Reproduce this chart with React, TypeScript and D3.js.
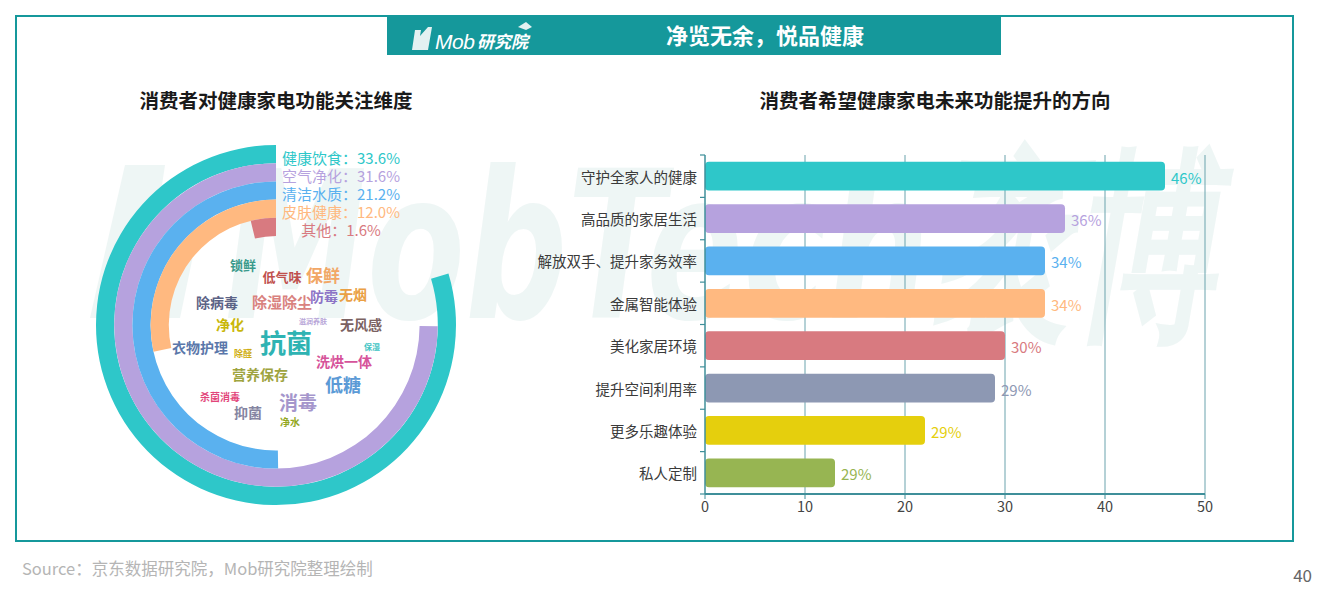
import React from "react";
import * as d3 from "d3";

// ---------- data ----------
const ringNames = ["健康饮食", "空气净化", "清洁水质", "皮肤健康", "其他"];
const ringValues = [33.6, 31.6, 21.2, 12.0, 1.6];
const ringColors = ["#2ec7c9", "#b6a2de", "#5ab1ef", "#ffb980", "#d87a80"];
const ringMax = 42.2;

const barCategories = [
  "守护全家人的健康",
  "高品质的家居生活",
  "解放双手、提升家务效率",
  "金属智能体验",
  "美化家居环境",
  "提升空间利用率",
  "更多乐趣体验",
  "私人定制",
];
const barValues = [46, 36, 34, 34, 30, 29, 22, 13];
const barLabels = ["46%", "36%", "34%", "34%", "30%", "29%", "29%", "29%"];
const barColors = ["#2ec7c9", "#b6a2de", "#5ab1ef", "#ffb980", "#d87a80", "#8d98b3", "#e5cf0d", "#97b552"];
const xTicks = [0, 10, 20, 30, 40, 50];

const cloudWords = ["锁鲜", "低气味", "保鲜", "除病毒", "除湿除尘", "防霉", "无烟", "净化", "滋润养肤", "无风感", "抗菌", "衣物护理", "除醛", "保湿", "洗烘一体", "营养保存", "低糖", "杀菌消毒", "消毒", "抑菌", "净水"];
const cloudSizes = [13, 13, 17, 14, 15, 14, 14, 14, 7, 14, 26, 14, 9, 8, 14, 14, 18, 10, 19, 14, 10];
const cloudColors = ["#3a9a8c", "#c0504d", "#f2a766", "#5c6386", "#d9827f", "#8c73c6", "#eaa044", "#c9b70a", "#b8a6d8", "#7b6262", "#2eb3b3", "#5a77aa", "#cfae12", "#3cc3c3", "#d6539a", "#9ea43f", "#5b9ad6", "#e2457a", "#a596cc", "#8585a2", "#93a81f"];
// word-cloud layout (relative to the ring centre)
const cloudDx = [-33, 6, 47, -59, 6, 48, 77, -46, 37, 85, 10, -76, -33, 96, 68, -16, 67, -56, 22, -28, 14];
const cloudDy = [-61, -49, -51, -23, -24, -29, -31, -1, -4, -1, 16, 22, 28, 21, 36, 49, 59, 71, 76, 87, 96];

const title = "净览无余，悦品健康";
const leftTitle = "消费者对健康家电功能关注维度";
const rightTitle = "消费者希望健康家电未来功能提升的方向";
const sourceText = "Source：京东数据研究院，Mob研究院整理绘制";
const pageNo = "40";

const FONT = "'Noto Sans CJK SC', 'Noto Sans', sans-serif";
const TEAL = "#15989b";

export default function App() {
  const W = 1322;
  const H = 596;

  // ring chart
  const cx = 276;
  const cy = 325;
  const outerR = 180;
  const band = 18.2;
  const angle = d3.scaleLinear().domain([0, ringMax]).range([0, -2 * Math.PI]);
  const arc = d3.arc<any>();

  // bar chart
  const x = d3.scaleLinear().domain([0, 50]).range([705, 1205]);
  const y = d3.scaleBand<string>().domain(barCategories).range([155, 494]).paddingInner(0.32).paddingOuter(0.16);
  const yb = d3.scaleBand<string>().domain(barCategories).range([155, 494]);

  return (
    <svg width={W} height={H} style={{ display: "block", position: "absolute", left: 0, top: 0 }} fontFamily={FONT}>
      <rect width={W} height={H} fill="#ffffff" />
      {/* watermark */}
      <g opacity={0.4}>
        <path d="M90 318 L125 165 L165 165 L160 198 L205 198 L180 318 Z" fill="#d6e9e7" />
        <text x={225} y={318} fontSize={205} fontWeight={700} fontStyle="italic" fill="#d6e9e7" textLength={990} lengthAdjust="spacingAndGlyphs" fontFamily="'DejaVu Sans', sans-serif">
          MobTech袤博
        </text>
      </g>

      {/* frame */}
      <rect x={16} y={16} width={1277} height={525} fill="none" stroke={TEAL} strokeWidth={2} />
      {/* header */}
      <rect x={387} y={17} width={614} height={38} fill={TEAL} />
      <g fill="#ffffff">
        <path d="M412 50 L415 30 L421 30 L420 36 L428 27 L432 27 L428 50 Z" fill="#e3f1f1" />
        <text x={435} y={49} fontSize={21} fontStyle="italic" fill="#ffffff" fontFamily="'Liberation Sans', sans-serif" letterSpacing={-0.5}>
          Mob
        </text>
        <text x={477} y={48} fontSize={17} fontStyle="italic" fontWeight={700} fill="#ffffff">研究院</text>
        <path d="M518 27 L526 22 L532 27 L526 30 Z" fill="#e3f1f1" />
        <text x={765} y={44} fontSize={22} fontWeight={700} textAnchor="middle" fill="#ffffff">{title}</text>
      </g>

      {/* titles */}
      <text x={276} y={108} fontSize={19.5} fontWeight={700} textAnchor="middle" fill="#1a1a1a">{leftTitle}</text>
      <text x={935} y={108} fontSize={19.5} fontWeight={700} textAnchor="middle" fill="#1a1a1a">{rightTitle}</text>

      {/* rings */}
      <g transform={`translate(${cx},${cy})`}>
        {ringValues.map((v, i) => (
          <path
            key={ringNames[i]}
            d={arc({ innerRadius: outerR - band * (i + 1), outerRadius: outerR - band * i, startAngle: 0, endAngle: angle(v) }) as string}
            fill={ringColors[i]}
          />
        ))}
        {cloudWords.map((w, i) => (
          <text
            key={w}
            x={cloudDx[i]}
            y={cloudDy[i]}
            fontSize={cloudSizes[i]}
            fontWeight={700}
            textAnchor="middle"
            dominantBaseline="central"
            fill={cloudColors[i]}
          >
            {w}
          </text>
        ))}
      </g>
      {ringNames.map((n, i) => (
        <text key={n} x={341} y={cy - outerR + band * i + band / 2 + 3} fontSize={15} textAnchor="middle" dominantBaseline="central" fill={ringColors[i]}>
          {`${n}：${ringValues[i].toFixed(1)}%`}
        </text>
      ))}

      {/* bar chart grid */}
      {xTicks.slice(1).map((t) => (
        <line key={t} x1={x(t)} x2={x(t)} y1={155} y2={494} stroke="#6aa3ad" strokeWidth={1} />
      ))}
      {barCategories.map((c, i) => (
        <rect key={c} x={x(0)} y={y(c)} width={x(barValues[i]) - x(0)} height={y.bandwidth()} rx={4} fill={barColors[i]} />
      ))}
      <line x1={705} x2={705} y1={155} y2={494} stroke="#3f8f9a" strokeWidth={1.5} />
      {[...barCategories.map((c) => yb(c) as number), 494].map((t, i) => (
        <line key={i} x1={700} x2={705} y1={t} y2={t} stroke="#3f8f9a" strokeWidth={1.2} />
      ))}
      <line x1={705} x2={1205} y1={494} y2={494} stroke="#3f8f9a" strokeWidth={2} />
      {xTicks.map((t) => (
        <g key={t}>
          <line x1={x(t)} x2={x(t)} y1={494} y2={499} stroke="#3f8f9a" />
          <text x={x(t)} y={512} fontSize={14.5} textAnchor="middle" fill="#444">{t}</text>
        </g>
      ))}
      {barCategories.map((c, i) => (
        <g key={c}>
          <text x={697} y={(y(c) as number) + y.bandwidth() / 2} fontSize={14.5} textAnchor="end" dominantBaseline="central" fill="#3a3a3a">{c}</text>
          <text x={x(barValues[i]) + 6} y={(y(c) as number) + y.bandwidth() / 2 + 1} fontSize={15} dominantBaseline="central" fill={barColors[i]}>{barLabels[i]}</text>
        </g>
      ))}

      {/* footer */}
      <text x={22} y={575} fontSize={16.5} fill="#b5b5b5">{sourceText}</text>
      <text x={1312} y={582} fontSize={17} textAnchor="end" fill="#666">{pageNo}</text>
    </svg>
  );
}
